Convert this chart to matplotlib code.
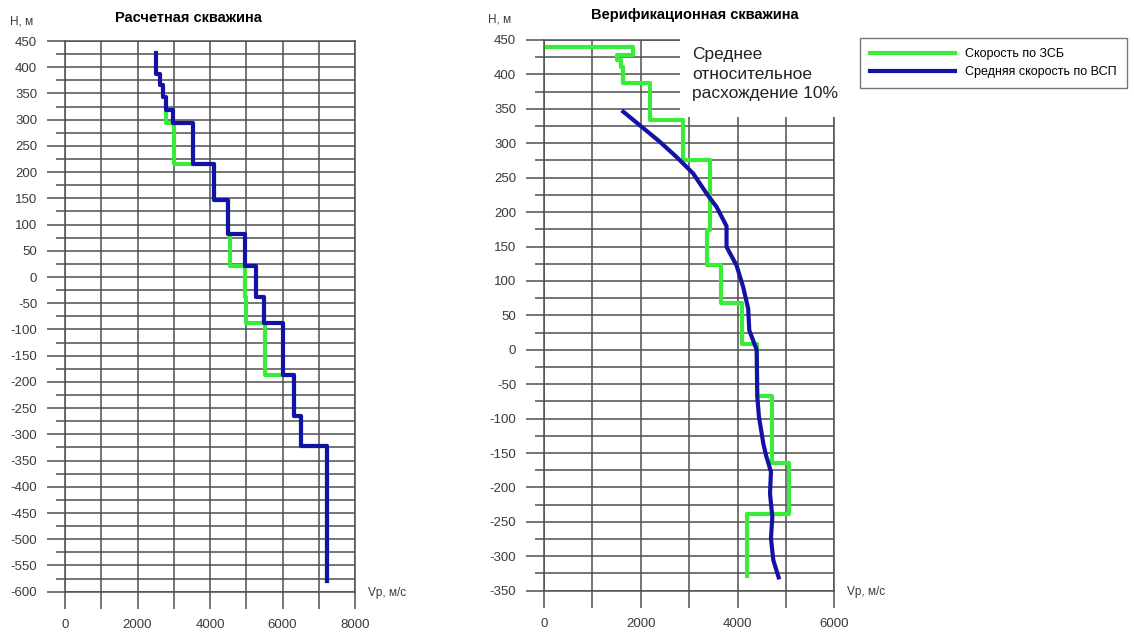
import matplotlib.pyplot as plt
from matplotlib.ticker import MultipleLocator, FuncFormatter
from matplotlib.patches import Rectangle

plt.rcParams['font.family'] = ['Liberation Sans', 'DejaVu Sans']
plt.rcParams['axes.unicode_minus'] = False

# Расчетная скважина: границы слоев (м) и скорости (м/с)
calc_vsp_h = [428, 388, 367, 343, 318, 293, 215, 146, 82.5, 21, -38, -88.6, -187.7, -265, -321.7, -579.7]
calc_vsp_v = [2500, 2620, 2690, 2790, 2990, 3520, 4101, 4488, 4959, 5272, 5502, 6005, 6326, 6501, 7237]
calc_zsb_h = [312, 293, 215, 146, 82.5, 21, -38, -88.6, -187.7, -265, -321.7, -579.7]
calc_zsb_v = [2790, 3000, 4110, 4488, 4562, 4959, 5000, 5517, 6326, 6501, 7237]

# Верификационная скважина
verif_zsb_h = [440, 428, 421, 411, 387, 334, 276, 174, 123, 68, 9, -67.5, -165, -238, -329]
verif_zsb_v = [1839, 1502, 1584, 1636, 2190, 2864, 3428, 3360, 3649, 4083, 4395, 4705, 5070, 4188]
verif_vsp_v = [1639, 2017, 2396, 2740, 3084, 3360, 3566, 3773, 3773, 3979, 4117, 4220, 4243, 4395,
               4409, 4443, 4533, 4588, 4691, 4671, 4719, 4691, 4739, 4850]
verif_vsp_h = [345.8, 324, 302, 280, 256, 227, 207.6, 179.5, 149.4, 122.7, 91, 59.7, 28.2, 0.2,
               -68.5, -97.5, -136.2, -153, -177.3, -208.8, -242.6, -274, -305.5, -330.7]

green = '#3aec3a'
blue = '#1212a6'
grid_c = '#505050'


def step_path(bounds, vels, start_v=None):
    xs, ys = [], []
    if start_v is not None:
        xs.append(start_v)
        ys.append(bounds[0])
    for i, v in enumerate(vels):
        xs += [v, v]
        ys += [bounds[i], bounds[i + 1]]
    return xs, ys


def setup(ax, xmax, ymin, ymax):
    ax.set_xlim(0, xmax)
    ax.set_ylim(ymin, ymax)
    ax.xaxis.set_major_locator(MultipleLocator(1000))
    ax.xaxis.set_major_formatter(FuncFormatter(lambda v, p: f'{v:.0f}' if v % 2000 == 0 else ''))
    ax.yaxis.set_major_locator(MultipleLocator(50))
    ax.yaxis.set_minor_locator(MultipleLocator(25))
    ax.grid(True, which='both', axis='y', color=grid_c, lw=1.1)
    ax.grid(True, which='major', axis='x', color=grid_c, lw=1.1)
    ax.tick_params(axis='y', which='major', length=13, width=1.1, color=grid_c, pad=7,
                   labelsize=9.5, labelcolor='#3a3a3a')
    ax.tick_params(axis='y', which='minor', length=6.5, width=1.1, color=grid_c)
    ax.tick_params(axis='x', which='major', length=12, width=1.1, color=grid_c, pad=8,
                   labelsize=9.5, labelcolor='#3a3a3a')
    for s in ax.spines.values():
        s.set_color(grid_c)
        s.set_linewidth(1.1)


fig = plt.figure(figsize=(11.34, 6.36), dpi=100)
ax1 = fig.add_axes([65 / 1134, 1 - 591.7 / 636, 290 / 1134, 550.7 / 636])
ax2 = fig.add_axes([544 / 1134, 1 - 590.7 / 636, 290.3 / 1134, 550.7 / 636])

setup(ax1, 8000, -600, 450)
setup(ax2, 6000, -350, 450)

x, y = step_path(calc_zsb_h, calc_zsb_v)
ax1.plot(x, y, color=green, lw=3)
x, y = step_path(calc_vsp_h, calc_vsp_v)
ax1.plot(x, y, color=blue, lw=3)

x, y = step_path(verif_zsb_h, verif_zsb_v, start_v=0)
ax2.plot(x, y, color=green, lw=3, label='Скорость по ЗСБ')
ax2.plot(verif_vsp_v, verif_vsp_h, color=blue, lw=3, label='Средняя скорость по ВСП')

# белая подложка под подписью
ax2.add_patch(Rectangle((2810, 338), 4000, 130, facecolor='white', edgecolor='none',
                        zorder=2.6, clip_on=False))
fig.text(692 / 1134, 1 - 47.5 / 636, 'Среднее\nотносительное\nрасхождение 10%',
         fontsize=12.5, color='#222222', va='top', ha='left', linespacing=1.37)

fig.text(188 / 1134, 1 - 18 / 636, 'Расчетная скважина', fontsize=10.5, fontweight='bold',
         ha='center', va='center')
fig.text(695 / 1134, 1 - 15 / 636, 'Верификационная скважина', fontsize=10.5, fontweight='bold',
         ha='center', va='center')
fig.text(10 / 1134, 1 - 22 / 636, 'Н, м', fontsize=8.5, color='#3a3a3a', va='center')
fig.text(488 / 1134, 1 - 20 / 636, 'Н, м', fontsize=8.5, color='#3a3a3a', va='center')
fig.text(368 / 1134, 1 - 593 / 636, 'Vp, м/с', fontsize=8.5, color='#3a3a3a', va='center')
fig.text(847 / 1134, 1 - 592 / 636, 'Vp, м/с', fontsize=8.5, color='#3a3a3a', va='center')

fig.legend(loc='upper left', bbox_to_anchor=(860 / 1134, 1 - 38 / 636), fontsize=9,
           handlelength=6.8, handletextpad=0.8, borderpad=0.8, labelspacing=0.5,
           fancybox=False, edgecolor='#777777', framealpha=1, borderaxespad=0)

fig.savefig('out.png', dpi=100)
